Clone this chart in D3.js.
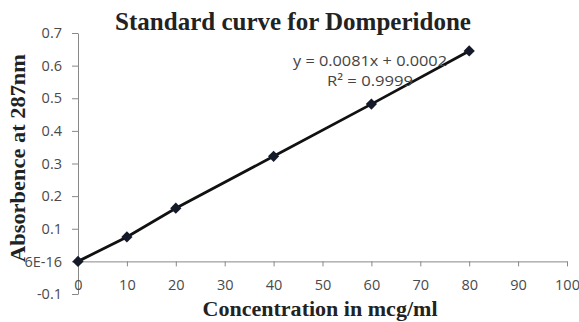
<!DOCTYPE html>
<html>
<head>
<meta charset="utf-8">
<script src="https://cdn.jsdelivr.net/npm/d3@7"></script>
<style>
  body { margin: 0; background: #fff; }
  .tick text { font-family: "Open Sans", "Liberation Sans", sans-serif; font-size: 14.5px; fill: #4a4a4a; }
  .axis path, .axis line { stroke: #888; }
</style>
</head>
<body>
<svg width="579" height="322"></svg>
<script>
var concentrations = [0, 10, 20, 40, 60, 80];
var absorbance = [0, 0.075, 0.163, 0.322, 0.482, 0.645];
var xTicks = [0, 10, 20, 30, 40, 50, 60, 70, 80, 90, 100];
var yTicks = [-0.1, 0, 0.1, 0.2, 0.3, 0.4, 0.5, 0.6, 0.7];
var yTickLabels = ["-0.1", "6E-16", "0.1", "0.2", "0.3", "0.4", "0.5", "0.6", "0.7"];
var equation = ["y = 0.0081x + 0.0002", "R\u00b2 = 0.9999"];

var svg = d3.select("svg"),
    margin = {top: 33, right: 12, bottom: 28, left: 78},
    width = +svg.attr("width") - margin.left - margin.right,
    height = +svg.attr("height") - margin.top - margin.bottom;

var x = d3.scaleLinear().domain([0, 100]).range([0, 489]);
var y = d3.scaleLinear().domain([-0.1, 0.7]).range([261, 0]);

var g = svg.append("g")
    .attr("transform", "translate(" + margin.left + "," + margin.top + ")");

// y axis on the left
g.append("g")
    .attr("class", "y axis")
    .call(d3.axisLeft(y).tickValues(yTicks).tickSize(6).tickSizeOuter(0)
      .tickFormat(function(d, i) { return yTickLabels[i]; }))
    .call(function(a) { a.selectAll("text").attr("x", -16); });

// x axis crosses at y = 0
g.append("g")
    .attr("class", "x axis")
    .attr("transform", "translate(0," + y(0) + ")")
    .call(d3.axisBottom(x).tickValues(xTicks).tickSize(5).tickSizeOuter(0))
    .call(function(a) { a.selectAll("text").attr("y", 18); });

var points = concentrations.map(function(c, i) { return {x: c, y: absorbance[i]}; });

g.append("path")
    .datum(points)
    .attr("fill", "none")
    .attr("stroke", "#111")
    .attr("stroke-width", 2.8)
    .attr("d", d3.line().x(function(d) { return x(d.x); }).y(function(d) { return y(d.y); }));

g.selectAll(".marker")
    .data(points)
  .enter().append("path")
    .attr("class", "marker")
    .attr("transform", function(d) { return "translate(" + x(d.x) + "," + y(d.y) + ")"; })
    .attr("d", d3.symbol().type(d3.symbolDiamond2).size(80))
    .attr("fill", "#141a2a");

// trendline label
svg.append("g")
    .selectAll("text")
    .data(equation)
  .enter().append("text")
    .attr("x", 370)
    .attr("y", function(d, i) { return 66 + i * 20; })
    .attr("text-anchor", "middle")
    .attr("textLength", function(d, i) { return i ? 86 : 154; })
    .attr("lengthAdjust", "spacingAndGlyphs")
    .style("font-family", "'Open Sans', 'Liberation Sans', sans-serif")
    .style("font-size", "14.5px")
    .style("fill", "#444")
    .text(function(d) { return d; });

function boldLabel(sel, size) {
  sel.attr("text-anchor", "middle")
    .style("font-family", "'Liberation Serif', serif")
    .style("font-weight", "bold")
    .style("font-size", size + "px")
    .style("fill", "#222");
}

svg.append("text")
    .attr("x", 293)
    .attr("y", 30)
    .call(boldLabel, 25)
    .text("Standard curve for Domperidone");

svg.append("text")
    .attr("x", 320)
    .attr("y", 316)
    .call(boldLabel, 20)
    .attr("textLength", 235)
    .attr("lengthAdjust", "spacingAndGlyphs")
    .text("Concentration in mcg/ml");

svg.append("text")
    .attr("transform", "translate(25,158) rotate(-90)")
    .call(boldLabel, 21)
    .attr("textLength", 208)
    .attr("lengthAdjust", "spacingAndGlyphs")
    .text("Absorbence at 287nm");
</script>
</body>
</html>
